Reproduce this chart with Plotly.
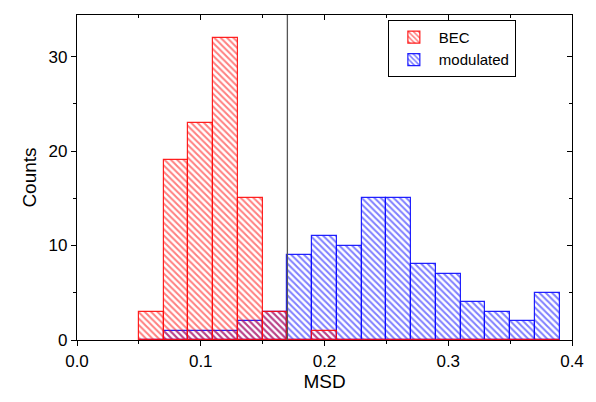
import plotly.graph_objects as go

bin_centers = [0.06, 0.08, 0.10, 0.12, 0.14, 0.16, 0.18, 0.20, 0.22, 0.24,
               0.26, 0.28, 0.30, 0.32, 0.34, 0.36, 0.38]
bec_counts = [3, 19, 23, 32, 15, 3, 0, 1, 0, 0, 0, 0, 0, 0, 0, 0, 0]
mod_counts = [0, 1, 1, 1, 2, 3, 9, 11, 10, 15, 15, 8, 7, 4, 3, 2, 5]
bin_width = 0.02
threshold = 0.17
x_range = [0, 0.4]
y_range = [0, 34.4]

fig = go.Figure()
fig.add_trace(go.Bar(
    x=bin_centers, y=mod_counts, width=bin_width, name="modulated",
    marker=dict(color="rgba(0,0,0,0)",
                line=dict(color="rgba(10,10,255,0.9)", width=1.2),
                pattern=dict(shape="\\", fgcolor="#0000ff", bgcolor="rgba(0,0,0,0)",
                             size=4.5, solidity=0.45, fillmode="overlay")),
))
fig.add_trace(go.Bar(
    x=bin_centers, y=bec_counts, width=bin_width, name="BEC",
    marker=dict(color="rgba(0,0,0,0)",
                line=dict(color="rgba(255,10,10,0.9)", width=1.2),
                pattern=dict(shape="\\", fgcolor="#ff0000", bgcolor="rgba(0,0,0,0)",
                             size=4.5, solidity=0.45, fillmode="overlay")),
))
# invisible trace to carry the mirrored (inside-tick) top/right axes
fig.add_trace(go.Scatter(x=[None], y=[None], xaxis="x2", yaxis="y2",
                         showlegend=False, hoverinfo="skip"))

fig.add_shape(type="line", xref="x", yref="paper", x0=threshold, x1=threshold,
              y0=0, y1=1, line=dict(color="#555555", width=1.3))

font_family = "Liberation Sans, Arial, sans-serif"
axis_common = dict(showline=True, linecolor="black", linewidth=1.2,
                   ticks="outside", ticklen=5, tickwidth=1, tickcolor="black",
                   showgrid=False, zeroline=False, automargin=False,
                   tickfont=dict(family=font_family, size=17, color="black"),
                   title_font=dict(family=font_family, size=19, color="black"))
mirror_common = dict(showline=True, linecolor="black", linewidth=1.2,
                     ticks="inside", ticklen=5, tickwidth=1, tickcolor="black",
                     showticklabels=False, showgrid=False, zeroline=False, automargin=False)

fig.update_layout(
    width=588, height=394,
    margin=dict(l=69, r=24, t=7, b=62),
    plot_bgcolor="white", paper_bgcolor="white",
    barmode="overlay", bargap=0,
    showlegend=True,
    legend=dict(x=0.628, y=0.985, xanchor="left", yanchor="top",
                bordercolor="black", borderwidth=1, bgcolor="white",
                traceorder="reversed",
                font=dict(family=font_family, size=15, color="black"),
                itemwidth=40),
    xaxis=dict(range=x_range, tickvals=[0, 0.1, 0.2, 0.3, 0.4],
               ticktext=["0.0", "0.1", "0.2", "0.3", "0.4"],
               minor=dict(dtick=0.05, tick0=0, ticks="outside", ticklen=3, tickcolor="black"),
               title=dict(text="MSD", standoff=5), **axis_common),
    yaxis=dict(range=y_range, tickvals=[0, 10, 20, 30],
               minor=dict(dtick=5, tick0=0, ticks="outside", ticklen=3, tickcolor="black"),
               title=dict(text="Counts", standoff=6), **axis_common),
    xaxis2=dict(range=x_range, overlaying="x", side="top", anchor="y2",
                tickvals=[0, 0.1, 0.2, 0.3, 0.4],
                minor=dict(dtick=0.05, tick0=0, ticks="inside", ticklen=3, tickcolor="black"),
                **mirror_common),
    yaxis2=dict(range=y_range, overlaying="y", side="right", anchor="x2",
                tickvals=[0, 10, 20, 30],
                minor=dict(dtick=5, tick0=0, ticks="inside", ticklen=3, tickcolor="black"),
                **mirror_common),
)

fig.write_html("out.html")
